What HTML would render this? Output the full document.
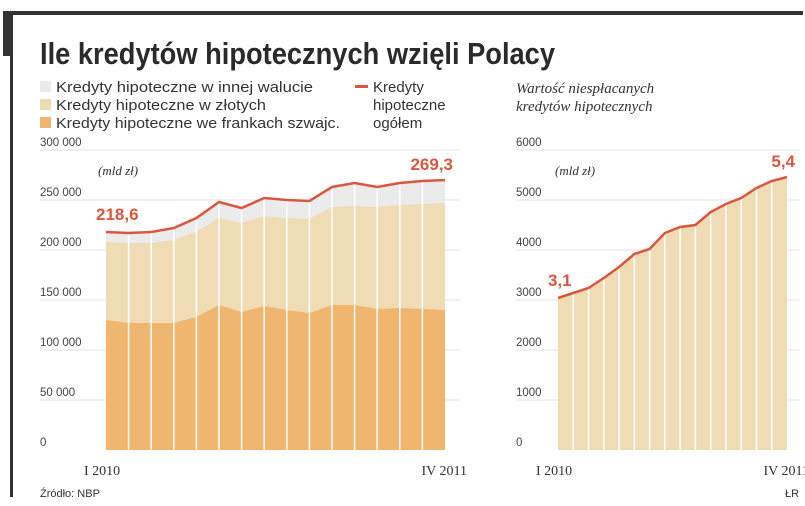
<!DOCTYPE html>
<html><head><meta charset="utf-8"><style>body{margin:0;background:#fff}svg{display:block}</style></head>
<body>
<svg id="c" width="805" height="506" viewBox="0 0 805 506" xmlns="http://www.w3.org/2000/svg" font-family="Liberation Sans, sans-serif">
<rect x="3" y="11" width="9" height="45" fill="#333"/>
<rect x="10" y="11" width="793" height="4" fill="#333"/>
<rect x="10" y="11" width="3" height="486" fill="#333"/>
<text x="40" y="64" font-size="31" font-weight="bold" fill="#2a2a2a" textLength="515" lengthAdjust="spacingAndGlyphs">Ile kredytów hipotecznych wzięli Polacy</text>
<g font-size="15" fill="#333">
<rect x="40" y="81" width="11" height="11" fill="#ebebeb"/>
<text x="56" y="92" textLength="257" lengthAdjust="spacingAndGlyphs">Kredyty hipoteczne w innej walucie</text>
<rect x="40" y="99" width="11" height="11" fill="#efdcb4"/>
<text x="56" y="110" textLength="210" lengthAdjust="spacingAndGlyphs">Kredyty hipoteczne w złotych</text>
<rect x="40" y="117" width="11" height="11" fill="#f0b56e"/>
<text x="56" y="128" textLength="284" lengthAdjust="spacingAndGlyphs">Kredyty hipoteczne we frankach szwajc.</text>
<rect x="355" y="85" width="13" height="3" fill="#d9573f"/>
<text x="373" y="92">Kredyty</text>
<text x="373" y="110">hipoteczne</text>
<text x="373" y="128">ogółem</text>
</g>
<text x="516" y="93" font-family="Liberation Serif, serif" font-style="italic" font-size="15" fill="#333">Wartość niespłacanych</text>
<text x="516" y="111" font-family="Liberation Serif, serif" font-style="italic" font-size="15" fill="#333">kredytów hipotecznych</text>
<g id="L"></g><g id="R"></g>
<text x="40" y="497" font-size="11" fill="#333">Źródło: NBP</text>
<text x="785" y="497" font-size="11" fill="#333">ŁR</text>
</svg>
<script>
const total=[218,217,218,222,232,248,242,252,250,249,263,267,263,267,269,270];
const plnTop=[208,207,207,210,218,232,227,234,232,231,243,244,243,245,246,247];
const chf=[130,127,127,127,133,145,138,144,140,137,145,145,141,142,141,140];
const leftTicks=[0,50000,100000,150000,200000,250000,300000];
const leftTickLabels=["0","50 000","100 000","150 000","200 000","250 000","300 000"];
const avg=[3040,3140,3240,3440,3660,3920,4020,4340,4460,4500,4760,4920,5040,5240,5380,5460];
const rightTicks=[0,1000,2000,3000,4000,5000,6000];
const rightTickLabels=["0","1000","2000","3000","4000","5000","6000"];
const NS="http://www.w3.org/2000/svg";
function mk(p,t,a){const e=document.createElementNS(NS,t);for(const k in a)e.setAttribute(k,a[k]);p.appendChild(e);return e;}
function draw(g,o){
  const n=o.vals.length;
  const x=i=>o.x0+(o.x1-o.x0)*i/(n-1);
  const y=v=>o.yb-(v/o.max)*(o.yb-o.yt);
  o.ticks.forEach((t,i)=>{
    if(t>0){const l=mk(g,'line',{x1:o.gx0,x2:o.gx1,y1:y(t),y2:y(t),stroke:'#e3e3e3','stroke-width':1});
    
    }
    const tx=mk(g,'text',{x:o.lx,y:y(t)-4,'font-size':11.5,fill:'#444'});tx.textContent=o.labels[i];
    
    
  });
  o.layers.forEach(L=>{
    let d='M'+x(0)+','+o.yb;L.v.forEach((v,i)=>d+='L'+x(i)+','+y(v*L.s));d+='L'+x(n-1)+','+o.yb+'Z';
    const p=mk(g,'path',{d,fill:L.c});
    
    
  });
  for(let i=1;i<n-1;i++){const l=mk(g,'line',{x1:x(i),x2:x(i),y1:o.yb,y2:y(o.vals[i]*o.s),stroke:'#fff','stroke-width':1.5});
    
    }
  const pts=o.vals.map((v,i)=>x(i)+','+y(v*o.s)).join(' ');
  const pl=mk(g,'polyline',{points:pts,fill:'none',stroke:'#d9573f','stroke-width':2.5});
  
  
  const a=mk(g,'text',{x:x(0)-10,y:y(o.vals[0]*o.s)-12,'font-size':17,'font-weight':'bold',fill:'#d9573f'});a.textContent=o.first;
  
  
  const b=mk(g,'text',{x:x(n-1)+8,y:y(o.vals[n-1]*o.s)-10,'font-size':17,'font-weight':'bold',fill:'#d9573f','text-anchor':'end'});b.textContent=o.last;
  
  
  const u=mk(g,'text',{x:o.ux,y:y(o.max)+25,'font-size':13,'font-style':'italic','font-family':'Liberation Serif, serif',fill:'#333'});u.textContent='(mld zł)';
  
  
  const s=mk(g,'text',{x:x(0)-22,y:475,'font-size':14,'font-family':'Liberation Serif, serif',fill:'#333'});s.textContent='I 2010';
  
  
  const e=mk(g,'text',{x:x(n-1)+22,y:475,'font-size':14,'font-family':'Liberation Serif, serif',fill:'#333','text-anchor':'end'});e.textContent='IV 2011';
  
  
}
draw(document.getElementById('L'),{vals:total,s:1000,x0:106,x1:445,yb:450,yt:150,max:300000,gx0:40,gx1:460,lx:40,ux:98,
 ticks:leftTicks,labels:leftTickLabels,first:'218,6',last:'269,3',
 layers:[{v:total,s:1000,c:'#ebebeb',name:'area-other-currency'},{v:plnTop,s:1000,c:'#efdcb4',name:'area-pln'},{v:chf,s:1000,c:'#f0b56e',name:'area-chf'}]});
draw(document.getElementById('R'),{vals:avg,s:1,x0:558,x1:787,yb:450,yt:150,max:6000,gx0:516,gx1:800,lx:516,ux:555,
 ticks:rightTicks,labels:rightTickLabels,first:'3,1',last:'5,4',
 layers:[{v:avg,s:1,c:'#efdcb4',name:'area-avg-value'}]});
</script>
</body></html>
